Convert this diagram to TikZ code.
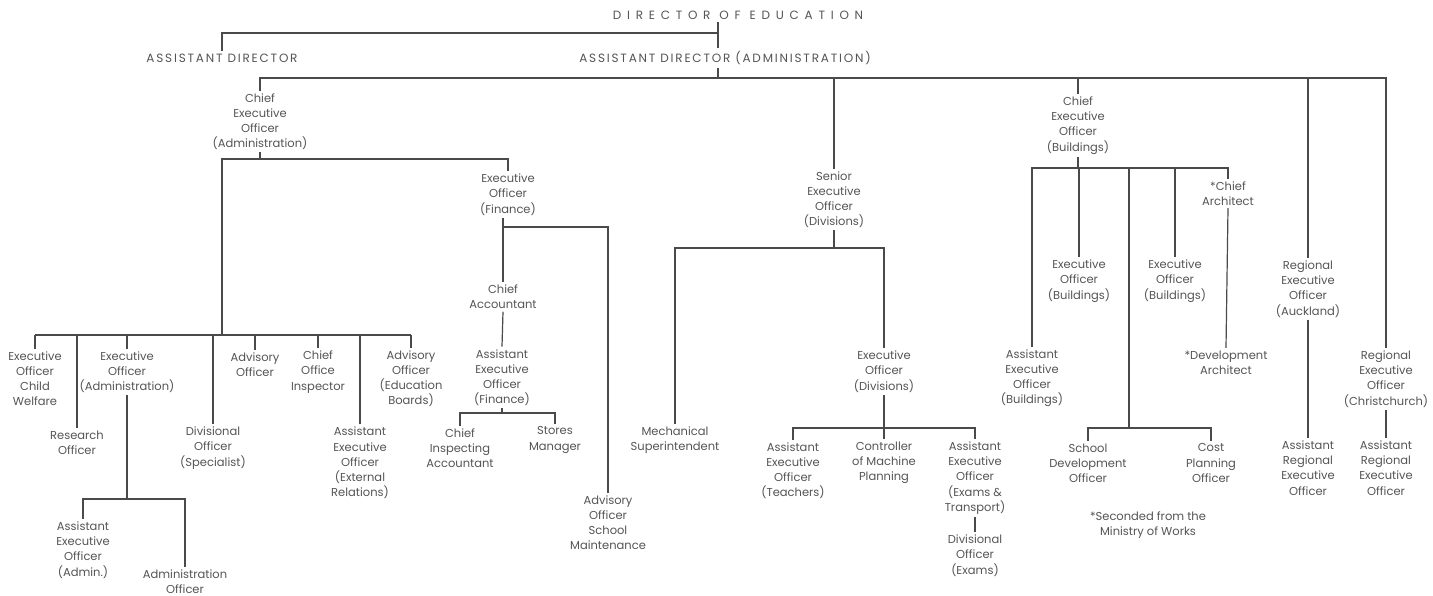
\documentclass[tikz,border=0pt]{standalone}
\usepackage{fontspec}
\setmainfont{Poppins}
\newfontfamily\capsfont[LetterSpace=15]{Poppins}
\newfontfamily\dirfont[LetterSpace=48]{Poppins}
\definecolor{ink}{HTML}{555555}
\definecolor{rule}{HTML}{4A4A4A}
\tikzset{
  post/.style={align=center, font=\fontsize{11.5}{15.2}\selectfont, text=ink, inner sep=2.5pt},
  head/.style={font=\capsfont\fontsize{12}{14}\selectfont, text=ink, inner sep=3pt},
  top/.style={font=\dirfont\fontsize{12}{14}\selectfont, text=ink, inner sep=3pt},
  link/.style={draw=rule, line width=1.2pt}
}
\begin{document}
\begin{tikzpicture}[x=1pt,y=-1pt]
\fill[white] (0,0) rectangle (1433,596);
\useasboundingbox (0,0) rectangle (1433,596);

% top of the chart
\node[top] (dir) at (738,15) {DIRECTOR OF EDUCATION};
\node[head] (ad) at (222,58) {ASSISTANT DIRECTOR};
\node[head] (ada) at (725,58) {ASSISTANT DIRECTOR (ADMINISTRATION)};

% second row
\node[post] (cea) at (260,121.5) {Chief\\Executive\\Officer\\(Administration)};
\node[post] (seo) at (834,199.5) {Senior\\Executive\\Officer\\(Divisions)};
\node[post] (ceb) at (1078,125.5) {Chief\\Executive\\Officer\\(Buildings)};
\node[post] (reoa) at (1308,289) {Regional\\Executive\\Officer\\(Auckland)};
\node[post] (reoc) at (1386,379) {Regional\\Executive\\Officer\\(Christchurch)};

% administration
\node[post] (eocw) at (35,378.5) {Executive\\Officer\\Child\\Welfare};
\node[post] (eoa) at (127,372) {Executive\\Officer\\(Administration)};
\node[post] (ao) at (255,364.5) {Advisory\\Officer};
\node[post] (coi) at (318,372) {Chief\\Office\\Inspector};
\node[post] (aoeb) at (411,378.5) {Advisory\\Officer\\(Education\\Boards)};
\node[post] (ro) at (77,442.5) {Research\\Officer};
\node[post] (dos) at (213,448) {Divisional\\Officer\\(Specialist)};
\node[post] (aeoer) at (360,463) {Assistant\\Executive\\Officer\\(External\\Relations)};
\node[post] (aeoa) at (83,550) {Assistant\\Executive\\Officer\\(Admin.)};
\node[post] (aoff) at (185,581.5) {Administration\\Officer};

% finance
\node[post] (eof) at (508,194.5) {Executive\\Officer\\(Finance)};
\node[post] (ca) at (503,297) {Chief\\Accountant};
\node[post] (aeof) at (502,377.5) {Assistant\\Executive\\Officer\\(Finance)};
\node[post] (cia) at (460,448) {Chief\\Inspecting\\Accountant};
\node[post] (sm) at (555,440) {Stores\\Manager};
\node[post] (aosm) at (608,522.5) {Advisory\\Officer\\School\\Maintenance};

% divisions
\node[post] (ms) at (675,440.5) {Mechanical\\Superintendent};
\node[post] (eodv) at (884,371.5) {Executive\\Officer\\(Divisions)};
\node[post] (aeot) at (793,470.5) {Assistant\\Executive\\Officer\\(Teachers)};
\node[post] (cmp) at (884,463) {Controller\\of Machine\\Planning};
\node[post] (aeoet) at (975,478) {Assistant\\Executive\\Officer\\(Exams \&\\Transport)};
\node[post] (doe) at (975,555.5) {Divisional\\Officer\\(Exams)};

% buildings
\node[post] (aeob) at (1032,378) {Assistant\\Executive\\Officer\\(Buildings)};
\node[post] (eob1) at (1079,281) {Executive\\Officer\\(Buildings)};
\node[post] (eob2) at (1175,281) {Executive\\Officer\\(Buildings)};
\node[post] (chf) at (1228,193.5) {*Chief\\Architect};
\node[post] (dva) at (1226,362.5) {*Development\\Architect};
\node[post] (sdo) at (1088,463) {School\\Development\\Officer};
\node[post] (cpo) at (1211,463) {Cost\\Planning\\Officer};
\node[post] (fn) at (1148,525) {*Seconded from the\\Ministry of Works};

% regions
\node[post] (araa) at (1308,468) {Assistant\\Regional\\Executive\\Officer};
\node[post] (arac) at (1386,468) {Assistant\\Regional\\Executive\\Officer};

% bars
\coordinate (b0) at (718,33);
\coordinate (b1) at (718,78);
\coordinate (b2) at (222,159);
\coordinate (b3) at (222,335);
\coordinate (b4) at (127,499);
\coordinate (b5) at (503,227);
\coordinate (b6) at (502,413);
\coordinate (b7) at (834,248);
\coordinate (b8) at (884,428);
\coordinate (b9) at (1078,168);
\coordinate (b10) at (1129,428);

\draw[link] (dir.south -| b0) -- (ada.north -| b0);
\draw[link] (b0) -| (ad.north);
\draw[link] (ada.south -| b1) -- (b1);
\draw[link] (cea.north) |- (reoc.north |- b1) -- (reoc.north);
\foreach \c in {seo,ceb,reoa}
\draw[link] (\c.north) -- (\c.north |- b1);

\draw[link] (cea.south) -- (cea.south |- b2);
\draw[link] (b3) -- (b2) -| (eof.north);
\draw[link] (eocw.north |- b3) -- (aoeb.north |- b3);
\foreach \c in {eocw,eoa,ao,coi,aoeb,ro,dos,aeoer}
\draw[link] (\c.north) -- (\c.north |- b3);
\draw[link] (eoa.south) -- (b4);
\draw[link] (aeoa.north) |- (b4) -| (aoff.north);

\draw[link] (eof.south -| ca.north) -- (ca.north);
\draw[link] (ca.north |- b5) -| (aosm.north);
\draw[link] (ca.south) -- (aeof.north);
\draw[link] (aeof.south) -- (b6);
\draw[link] (cia.north) |- (b6) -| (sm.north);

\draw[link] (seo.south) -- (b7);
\draw[link] (ms.north) |- (b7) -| (eodv.north);
\draw[link] (eodv.south) -- (b8);
\draw[link] (aeot.north) |- (b8) -| (aeoet.north);
\draw[link] (cmp.north) -- (b8);
\draw[link] (aeoet.south) -- (doe.north);

\draw[link] (ceb.south) -- (b9);
\draw[link] (aeob.north) |- (b9) -| (chf.north);
\foreach \c in {eob1,eob2}
\draw[link] (\c.north) -- (\c.north |- b9);
\draw[link] (chf.south) -- (dva.north);
\draw[link] (b10 |- b9) -- (b10);
\draw[link] (sdo.north) |- (b10) -| (cpo.north);

\draw[link] (reoa.south) -- (araa.north);
\draw[link] (reoc.south) -- (arac.north);

\end{tikzpicture}
\end{document}
